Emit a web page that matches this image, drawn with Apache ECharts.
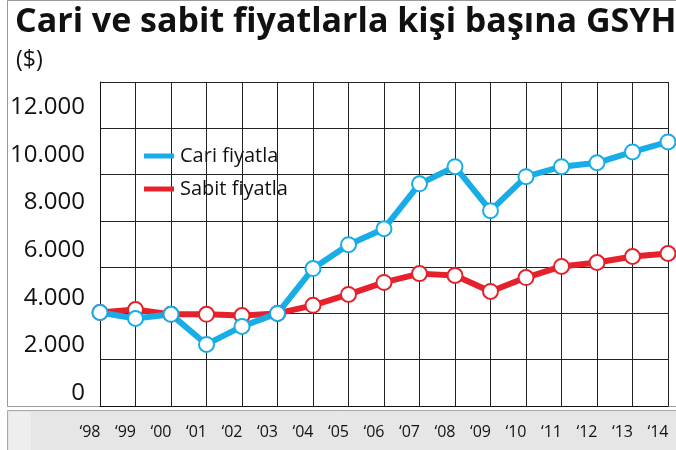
<!DOCTYPE html>
<html>
<head>
<meta charset="utf-8">
<script src="https://cdn.jsdelivr.net/npm/echarts@6/dist/echarts.min.js"></script>
<style>
  html, body { margin: 0; padding: 0; background: #fff; }
  #main { width: 676px; height: 450px; }
</style>
</head>
<body>
<div id="main"></div>
<script>
// yillar
var years = ['‘98', '‘99', '‘00', '‘01', '‘02', '‘03', '‘04', '‘05', '‘06',
  '‘07', '‘08', '‘09', '‘10', '‘11', '‘12', '‘13', '‘14'];
// kisi basina GSYH ($)
var cariFiyatla = [4040, 3780, 3960, 2660, 3440, 4000, 5940, 6970, 7660,
  9600, 10340, 8440, 9910, 10340, 10510, 10980, 11410];
var sabitFiyatla = [4040, 4170, 3960, 3960, 3910, 4000, 4350, 4820, 5340,
  5720, 5640, 4950, 5550, 6030, 6200, 6460, 6590];
// sol eksen etiketleri
var yTicks = [0, 2000, 4000, 6000, 8000, 10000, 12000];

var blue = '#18ade6';
var red = '#e6212b';
var font = 'Open Sans';

var myChart = echarts.init(document.getElementById('main'));

function lineSeries(name, data, color) {
  return {
    name: name,
    type: 'line',
    data: data,
    symbol: 'circle',
    symbolSize: 15,
    lineStyle: { color: color, width: 6 },
    itemStyle: { color: '#fff', borderColor: color, borderWidth: 2 },
    emphasis: { disabled: true },
    z: 3
  };
}

var option = {
  animation: false,
  title: [
    {
      text: 'Cari ve sabit fiyatlarla kişi başına GSYH',
      left: 10, top: 0,
      textStyle: { fontFamily: font, fontWeight: 'bold', fontSize: 34, color: '#111' }
    },
    {
      text: '($)',
      left: 11, top: 44,
      textStyle: { fontFamily: font, fontWeight: 'normal', fontSize: 23, color: '#111' }
    }
  ],
  graphic: [
    // cerceve
    { type: 'rect', shape: { x: 7.5, y: 0.5, width: 700, height: 406 },
      style: { fill: 'none', stroke: '#9a9a9a', lineWidth: 1 }, z: -10 },
    // alttaki gri bant
    { type: 'rect', shape: { x: 7.5, y: 410.5, width: 700, height: 45 },
      style: { fill: '#e6e6e6', stroke: '#a8a8a8', lineWidth: 1 }, z: -10 },
    { type: 'rect', shape: { x: 9, y: 412, width: 22, height: 40 },
      style: { fill: '#eeeeee' }, z: -9 }
  ],
  legend: {
    orient: 'vertical',
    left: 139, top: 141,
    itemWidth: 30, itemHeight: 5,
    itemGap: 13,
    icon: 'rect',
    selectedMode: false,
    textStyle: { fontFamily: font, fontSize: 20, color: '#111', padding: [0, 0, 0, 1] },
    data: [
      { name: 'Cari fiyatla', itemStyle: { color: blue, borderWidth: 0 } },
      { name: 'Sabit fiyatla', itemStyle: { color: red, borderWidth: 0 } }
    ]
  },
  grid: { left: 100, right: 8, top: 82, bottom: 44 },
  xAxis: {
    type: 'category',
    data: years,
    boundaryGap: false,
    axisLine: { lineStyle: { color: '#111', width: 1 } },
    axisTick: { show: false },
    axisLabel: {
      margin: 18, fontFamily: font, fontSize: 16, color: '#111',
      padding: [0, 20, 0, 0], interval: 0
    },
    splitLine: { show: true, interval: 0, lineStyle: { color: '#222', width: 1 } }
  },
  yAxis: [
    {
      type: 'value',
      min: 0, max: 14000, interval: 2000,
      axisLine: { show: true, lineStyle: { color: '#111' } },
      axisTick: { show: false },
      axisLabel: { show: false },
      splitLine: { lineStyle: { color: '#222', width: 1 } }
    },
    {
      // etiketler cizgilerle hizali degil, ayri eksen
      type: 'value',
      position: 'left',
      min: -536, max: 13048,
      axisLine: { show: false },
      axisTick: { show: false },
      splitLine: { show: false },
      axisLabel: {
        customValues: yTicks,
        margin: 15,
        fontFamily: font, fontSize: 24, color: '#111',
        formatter: function (v) {
          return v === 0 ? '0' : (v / 1000) + '.000';
        }
      }
    }
  ],
  series: [
    lineSeries('Sabit fiyatla', sabitFiyatla, red),
    lineSeries('Cari fiyatla', cariFiyatla, blue)
  ]
};

myChart.setOption(option);
</script>
</body>
</html>
